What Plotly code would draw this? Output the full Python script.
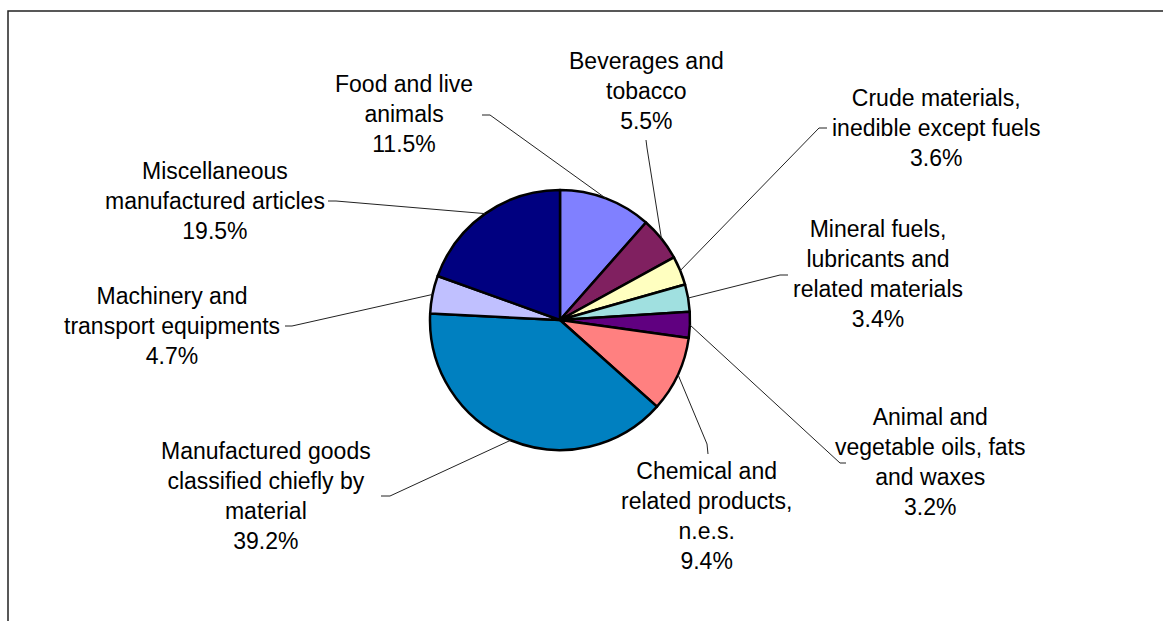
import math
import plotly.graph_objects as go

W, H = 1163, 621

# ---- data ----
categories = [
    "Food and live animals",
    "Beverages and tobacco",
    "Crude materials, inedible except fuels",
    "Mineral fuels, lubricants and related materials",
    "Animal and vegetable oils, fats and waxes",
    "Chemical and related products, n.e.s.",
    "Manufactured goods classified chiefly by material",
    "Machinery and transport equipments",
    "Miscellaneous manufactured articles",
]
values = [11.5, 5.5, 3.6, 3.4, 3.2, 9.4, 39.2, 4.7, 19.5]
label_texts = [
    "Food and live<br>animals",
    "Beverages and<br>tobacco",
    "Crude materials,<br>inedible except fuels",
    "Mineral fuels,<br>lubricants and<br>related materials",
    "Animal and<br>vegetable oils, fats<br>and waxes",
    "Chemical and<br>related products,<br>n.e.s.",
    "Manufactured goods<br>classified chiefly by<br>material",
    "Machinery and<br>transport equipments",
    "Miscellaneous<br>manufactured articles",
]
colors = ["#8080FF", "#802060", "#FFFFC0", "#A0E0E0", "#600080",
          "#FF8080", "#0080C0", "#C0C0FF", "#000080"]

# ---- layout (pixel positions) ----
CX, CY, R = 560, 320, 130
label_pos = [(404, 114), (646, 91), (936, 128), (878, 274), (930, 462),
             (706, 516), (266, 496), (172, 326), (215, 201)]
# leader: label-side point (tick start) and tick end
leader_tick = [((482, 115), (490, 115)), ((646, 140), (647, 148)),
               ((827, 128), (819, 128)), ((788, 275), (780, 275)),
               ((846, 463), (840, 463)), ((708, 454), (707, 444)),
               ((381, 496), (390, 496)), ((285, 326), (292, 326)),
               ((328, 201), (336, 201))]

def px(x):
    return x / W

def py(y):
    return 1 - y / H

fig = go.Figure()
fig.add_trace(go.Pie(
    labels=categories, values=values, sort=False, direction="clockwise",
    rotation=0, textinfo="none", hoverinfo="label+percent",
    marker=dict(colors=colors, line=dict(color="black", width=2.5)),
    domain=dict(x=[px(CX - R), px(CX + R)], y=[py(CY + R), py(CY - R)]),
    showlegend=False,
))

shapes = []
annotations = []
total = sum(values)
cum = 0.0
for i, v in enumerate(values):
    mid = (cum + v / 2) / total * 2 * math.pi
    cum += v
    ex = CX + R * math.sin(mid)
    ey = CY - R * math.cos(mid)
    (tx0, ty0), (tx1, ty1) = leader_tick[i]
    shapes.append(dict(type="line", xref="paper", yref="paper",
                       x0=px(tx0), y0=py(ty0), x1=px(tx1), y1=py(ty1),
                       line=dict(color="#222222", width=1)))
    shapes.append(dict(type="line", xref="paper", yref="paper",
                       x0=px(tx1), y0=py(ty1), x1=px(ex), y1=py(ey),
                       line=dict(color="#222222", width=1)))
    lx, ly = label_pos[i]
    annotations.append(dict(
        xref="paper", yref="paper", x=px(lx), y=py(ly),
        xanchor="center", yanchor="middle", showarrow=False, align="center",
        text=f"{label_texts[i]}<br>{v:.1f}%",
        font=dict(family="Liberation Sans, Arial, sans-serif", size=23, color="black"),
    ))

# chart frame
shapes.append(dict(type="rect", xref="paper", yref="paper",
                   x0=px(8), y0=py(650), x1=px(1190), y1=py(11),
                   line=dict(color="#222222", width=1.5), layer="below"))

fig.update_layout(
    width=W, height=H, margin=dict(l=0, r=0, t=0, b=0),
    paper_bgcolor="white", plot_bgcolor="white",
    shapes=shapes, annotations=annotations,
)

fig.write_html(
    "out.html",
    config={"displayModeBar": False},
    post_script="document.body.style.margin='0';document.body.style.overflow='hidden';",
)
